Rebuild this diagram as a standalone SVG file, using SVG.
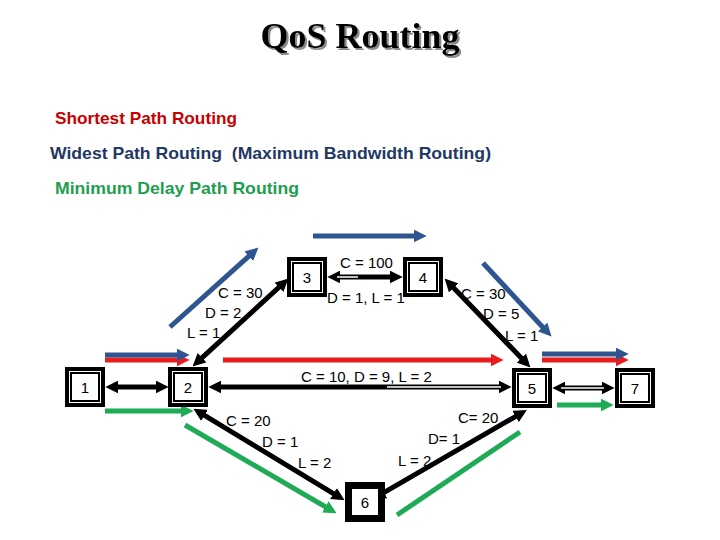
<svg xmlns="http://www.w3.org/2000/svg" width="720" height="540" viewBox="0 0 720 540">
<style>
.lbl{font-family:"Liberation Sans",Arial,sans-serif;font-size:15px;fill:#000}
.nl{font-family:"Liberation Sans",Arial,sans-serif;font-size:15px;fill:#000;text-anchor:middle}
.sub{font-family:"Liberation Sans",Arial,sans-serif;font-size:17px;font-weight:bold}
.blk{stroke:#000;stroke-width:5;fill:none}
.blu{stroke:#2F5590;stroke-width:5;fill:none}
.red{stroke:#E81E1E;stroke-width:5;fill:none}
.grn{stroke:#1FAA55;stroke-width:5;fill:none}
.title{font-family:"Liberation Serif","Times New Roman",serif;font-size:36px;font-weight:bold;text-anchor:middle}
</style>
<defs>
<filter id="sh" x="-10%" y="-30%" width="120%" height="160%"><feDropShadow dx="2" dy="2" stdDeviation="0.6" flood-color="#8a8a8a"/></filter>
<marker id="ak" markerUnits="userSpaceOnUse" markerWidth="13" markerHeight="13" viewBox="0 0 12 12" refX="4" refY="6" orient="auto-start-reverse"><path d="M0,0 L12,6 L0,12 z" fill="#000"/></marker>
<marker id="ab" markerUnits="userSpaceOnUse" markerWidth="13" markerHeight="13" viewBox="0 0 12 12" refX="4" refY="6" orient="auto"><path d="M0,0 L12,6 L0,12 z" fill="#2F5590"/></marker>
<marker id="ar" markerUnits="userSpaceOnUse" markerWidth="13" markerHeight="13" viewBox="0 0 12 12" refX="4" refY="6" orient="auto"><path d="M0,0 L12,6 L0,12 z" fill="#E81E1E"/></marker>
<marker id="ag" markerUnits="userSpaceOnUse" markerWidth="13" markerHeight="13" viewBox="0 0 12 12" refX="4" refY="6" orient="auto"><path d="M0,0 L12,6 L0,12 z" fill="#1FAA55"/></marker>
<g id="box">
<rect x="0" y="0" width="40" height="40" fill="#000"/>
<rect x="4.5" y="4.5" width="31" height="31" fill="none" stroke="#fff" stroke-width="1"/>
<rect x="7" y="7" width="26" height="26" fill="#fff"/>
</g>
</defs>
<rect width="720" height="540" fill="#fff"/>

<g id="title">
<text class="title" x="360" y="48" fill="#000" filter="url(#sh)">QoS Routing</text>
</g>
<g id="legend">
<text class="sub" x="55" y="124" fill="#C80000" textLength="182" lengthAdjust="spacingAndGlyphs">Shortest Path Routing</text>
<text class="sub" x="50" y="159" fill="#1F3864" xml:space="preserve" textLength="441" lengthAdjust="spacingAndGlyphs">Widest Path Routing  (Maximum Bandwidth Routing)</text>
<text class="sub" x="55" y="194" fill="#1E9E4F" textLength="244" lengthAdjust="spacingAndGlyphs">Minimum Delay Path Routing</text>
</g>

<g id="connectors">
<line class="blk" x1="114" y1="387" x2="160" y2="387" marker-start="url(#ak)" marker-end="url(#ak)"/>
<line class="blk" x1="217" y1="387" x2="503" y2="387" marker-start="url(#ak)" marker-end="url(#ak)"/>
<line x1="387" y1="387" x2="501" y2="387" stroke="#fff" stroke-width="1.5"/>
<line class="blk" x1="336" y1="277" x2="394" y2="277" marker-start="url(#ak)" marker-end="url(#ak)"/>
<line x1="337" y1="277" x2="358" y2="277" stroke="#fff" stroke-width="1.5"/>
<line class="blk" x1="561" y1="388" x2="606" y2="388" marker-start="url(#ak)" marker-end="url(#ak)"/>
<line x1="561" y1="388" x2="604" y2="388" stroke="#fff" stroke-width="1.5"/>
<line class="blk" x1="198.9" y1="360.6" x2="282.1" y2="284.4" marker-start="url(#ak)" marker-end="url(#ak)"/>
<line class="blk" x1="450.6" y1="284.8" x2="524.4" y2="361.2" marker-start="url(#ak)" marker-end="url(#ak)"/>
<line class="blk" x1="200.8" y1="413.2" x2="337.2" y2="495.8" marker-start="url(#ak)" marker-end="url(#ak)"/>
<line class="blk" x1="519.3" y1="414.3" x2="380.3" y2="494.7" marker-start="url(#ak)" marker-end="url(#ak)"/>

<line class="red" x1="105" y1="360" x2="181" y2="360" marker-end="url(#ar)"/>
<line class="red" x1="223" y1="360" x2="495" y2="360" marker-end="url(#ar)"/>
<line class="red" x1="542" y1="360" x2="620" y2="360" marker-end="url(#ar)"/>

<line class="blu" x1="105" y1="355" x2="181" y2="355" marker-end="url(#ab)"/>
<line class="blu" x1="170" y1="327" x2="252" y2="253.3" marker-end="url(#ab)"/>
<line class="blu" x1="313" y1="236" x2="418" y2="236" marker-end="url(#ab)"/>
<line class="blu" x1="483" y1="263" x2="545.6" y2="330.2" marker-end="url(#ab)"/>
<line class="blu" x1="542" y1="354" x2="620" y2="354" marker-end="url(#ab)"/>

<line class="grn" x1="105" y1="411" x2="185" y2="411" marker-end="url(#ag)"/>
<line class="grn" x1="185" y1="425" x2="329.1" y2="509" marker-end="url(#ag)"/>
<line class="grn" x1="397" y1="515" x2="520" y2="432"/>
<line class="grn" x1="557" y1="405" x2="605" y2="405" marker-end="url(#ag)"/>
</g>

<g id="edge-labels">
<text class="lbl" x="218" y="298">C = 30</text>
<text class="lbl" x="205" y="318">D = 2</text>
<text class="lbl" x="187" y="338">L = 1</text>
<text class="lbl" x="340" y="268">C = 100</text>
<text class="lbl" x="327" y="303">D = 1, L = 1</text>
<text class="lbl" x="461" y="299">C = 30</text>
<text class="lbl" x="483" y="319">D = 5</text>
<text class="lbl" x="505" y="341">L = 1</text>
<text class="lbl" x="301" y="382">C = 10, D = 9, L = 2</text>
<text class="lbl" x="226" y="426">C = 20</text>
<text class="lbl" x="262" y="447">D = 1</text>
<text class="lbl" x="298" y="468">L = 2</text>
<text class="lbl" x="458" y="423">C= 20</text>
<text class="lbl" x="428" y="444">D= 1</text>
<text class="lbl" x="398" y="466">L = 2</text>
</g>

<g id="node1"><use href="#box" x="65" y="367"/><text class="nl" x="85" y="393">1</text></g>
<g id="node2"><use href="#box" x="168" y="367"/><text class="nl" x="188" y="393">2</text></g>
<g id="node3"><use href="#box" x="287" y="257"/><text class="nl" x="307" y="283">3</text></g>
<g id="node4"><use href="#box" x="403" y="257"/><text class="nl" x="423" y="283">4</text></g>
<g id="node5"><use href="#box" x="512" y="368"/><text class="nl" x="532" y="394">5</text></g>
<g id="node7"><use href="#box" x="615" y="368"/><text class="nl" x="635" y="394">7</text></g>
<g id="node6"><rect x="345" y="482" width="40" height="40" fill="#000"/><rect x="352" y="489" width="26" height="26" fill="#fff"/><text class="nl" x="365" y="508">6</text></g>
</svg>
